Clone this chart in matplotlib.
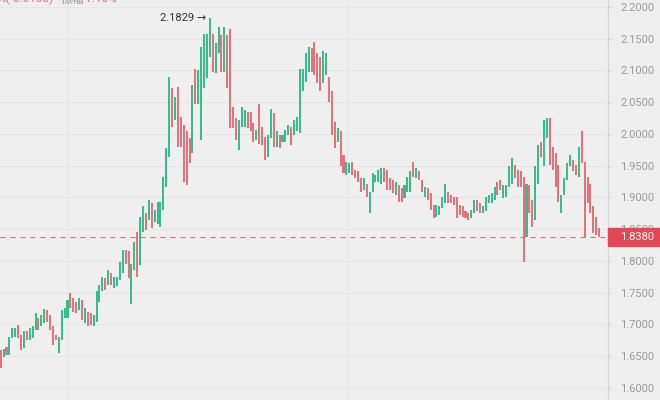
import numpy as np
import matplotlib
matplotlib.use("Agg")
import matplotlib.pyplot as plt
from matplotlib.patches import Rectangle
import matplotlib.transforms as mtransforms

# ---------------------------------------------------------------------------
# Data
# ---------------------------------------------------------------------------
opens = [
    1.660, 1.649, 1.665, 1.652, 1.678, 1.681, 1.699, 1.683, 1.663, 1.689,
    1.676, 1.678, 1.691, 1.710, 1.697, 1.702, 1.723, 1.715, 1.697, 1.683,
    1.655, 1.676, 1.710, 1.710, 1.749, 1.741, 1.736, 1.723, 1.739, 1.702,
    1.720, 1.718, 1.697, 1.704, 1.736, 1.752, 1.773, 1.762, 1.781, 1.757,
    1.760, 1.770, 1.781, 1.817, 1.815, 1.733, 1.786, 1.846, 1.794, 1.846,
    1.875, 1.865, 1.891, 1.862, 1.859, 1.854, 1.880, 1.917, 1.964, 2.072,
    2.022, 2.074, 2.027, 2.014, 2.004, 1.993, 1.970, 2.103, 2.048, 1.991,
    2.072, 2.088, 2.122, 2.158, 2.096, 2.127, 2.156, 2.098, 2.156, 2.166,
    2.043, 2.025, 1.975, 2.011, 2.011, 2.035, 2.035, 2.017, 1.991, 2.048,
    2.011, 1.996, 1.964, 1.993, 2.033, 1.980, 1.998, 1.988, 1.988, 1.998,
    2.011, 1.998, 2.004, 2.001, 2.067, 2.082, 2.098, 2.135, 2.145, 2.127,
    2.122, 2.080, 2.093, 2.090, 2.067, 2.019, 1.988, 2.004, 1.967, 1.935,
    1.938, 1.956, 1.943, 1.941, 1.930, 1.912, 1.922, 1.875, 1.909, 1.925,
    1.925, 1.922, 1.946, 1.943, 1.930, 1.928, 1.904, 1.920, 1.915, 1.899,
    1.909, 1.909, 1.956, 1.930, 1.941, 1.928, 1.901, 1.915, 1.907, 1.888,
    1.870, 1.872, 1.883, 1.891, 1.909, 1.904, 1.901, 1.901, 1.888, 1.886,
    1.878, 1.875, 1.867, 1.875, 1.896, 1.891, 1.875, 1.878, 1.891, 1.891,
    1.896, 1.925, 1.928, 1.899, 1.901, 1.917, 1.922, 1.951, 1.943, 1.941,
    1.933, 1.838, 1.920, 1.896, 1.865, 1.922, 1.988, 1.949, 1.993, 2.025,
    1.980, 1.970, 1.951, 1.875, 1.904, 1.928, 1.949, 1.959, 1.951, 1.933,
    2.004, 1.956, 1.933, 1.922, 1.886, 1.870, 1.852,
]
closes = [
    1.631, 1.662, 1.652, 1.681, 1.694, 1.694, 1.678, 1.660, 1.689, 1.676,
    1.694, 1.697, 1.718, 1.691, 1.715, 1.724, 1.704, 1.691, 1.668, 1.676,
    1.681, 1.723, 1.726, 1.739, 1.726, 1.720, 1.718, 1.741, 1.707, 1.726,
    1.697, 1.699, 1.715, 1.752, 1.762, 1.775, 1.754, 1.786, 1.762, 1.775,
    1.775, 1.799, 1.817, 1.796, 1.773, 1.796, 1.830, 1.775, 1.870, 1.886,
    1.849, 1.896, 1.852, 1.880, 1.893, 1.893, 1.933, 1.978, 2.090, 2.011,
    2.059, 1.980, 1.980, 1.925, 1.920, 1.954, 2.077, 2.048, 2.101, 2.137,
    2.158, 2.158, 2.182, 2.098, 2.143, 2.169, 2.098, 2.169, 2.072, 2.009,
    2.009, 1.991, 2.022, 2.043, 2.038, 2.009, 2.004, 1.988, 2.006, 1.985,
    1.983, 1.959, 1.998, 2.040, 1.980, 2.004, 1.978, 1.998, 2.006, 2.014,
    1.983, 2.022, 2.027, 2.103, 2.103, 2.127, 2.137, 2.098, 2.093, 2.080,
    2.067, 2.130, 2.127, 2.051, 1.998, 1.978, 2.009, 1.949, 1.938, 1.956,
    1.954, 1.935, 1.930, 1.925, 1.909, 1.930, 1.901, 1.909, 1.938, 1.935,
    1.943, 1.946, 1.925, 1.912, 1.912, 1.907, 1.925, 1.893, 1.893, 1.920,
    1.933, 1.941, 1.933, 1.946, 1.928, 1.909, 1.917, 1.896, 1.880, 1.867,
    1.888, 1.886, 1.901, 1.922, 1.891, 1.891, 1.888, 1.867, 1.872, 1.870,
    1.867, 1.865, 1.880, 1.896, 1.878, 1.875, 1.886, 1.901, 1.904, 1.907,
    1.917, 1.904, 1.912, 1.920, 1.920, 1.949, 1.962, 1.930, 1.917, 1.917,
    1.799, 1.922, 1.875, 1.854, 1.949, 1.983, 1.964, 2.022, 2.025, 1.951,
    1.943, 1.917, 1.893, 1.904, 1.930, 1.954, 1.967, 1.941, 1.935, 1.980,
    1.954, 1.836, 1.891, 1.875, 1.844, 1.841, 1.838,
]
peak_label = 2.1829
last_price = 1.8380
header_change = "%(-0.6133)"
header_amp_name = "振幅"
header_amp = "1.10%"

# ---------------------------------------------------------------------------
# Style
# ---------------------------------------------------------------------------
BG = "#efefef"
UP = "#35bd8b"
DOWN = "#e5717b"
LAST_RED = "#e34755"
W, H = 660, 400

plt.rcParams["font.family"] = ["Roboto", "DejaVu Sans"]

fig = plt.figure(figsize=(W / 100, H / 100), dpi=100)
fig.patch.set_facecolor(BG)
ax = fig.add_axes([0, 0, 608 / W, 1])
ax.set_facecolor(BG)

o = np.array(opens)
c = np.array(closes)
x = np.arange(len(o))
cols = np.where(c >= o, UP, DOWN)

# candle bodies
ax.bar(x, np.abs(c - o), bottom=np.minimum(o, c), width=0.7,
       color=cols, linewidth=0, zorder=3)

# axes limits (pixel mapping: 2.20 at y=7, 1.60 at y=388)
ax.set_xlim(-0.24, 209.05)
ax.set_ylim(1.5811, 2.2110)

# grid
ticks = np.arange(1.60, 2.2001, 0.05)
ax.set_yticks(ticks)
ax.set_yticklabels([f"{t:.4f}" for t in ticks])
ax.yaxis.tick_right()
ax.set_xticks([23.2, 119.2])
ax.tick_params(axis="x", length=0, labelbottom=False)
ax.grid(True, color="#e6e6e6", linewidth=0.8, zorder=0)
ax.tick_params(axis="y", length=2.5, width=0.8, color="#cfcfcf",
               pad=6.2, labelsize=8, labelcolor="#9a9a9a")
for s in ["top", "left", "bottom"]:
    ax.spines[s].set_visible(False)
ax.spines["right"].set_color("#d6d6d6")
ax.spines["right"].set_linewidth(0.8)

# last price dashed line + label box
ax.axhline(last_price, color="#e06a74", linewidth=0.8,
           linestyle=(0, (4.5, 4.5)), zorder=2)
blend = mtransforms.blended_transform_factory(ax.transAxes, ax.transData)
half = 9 / 635
ax.add_patch(Rectangle((1.0, last_price - half), W / 608 - 1.0, 2 * half,
                       transform=blend, color=LAST_RED, clip_on=False,
                       zorder=10))
ax.text(1.0 + 12 / 608, last_price, f"{last_price:.4f}", transform=blend,
        color="white", fontsize=8, va="center", ha="left", zorder=11,
        clip_on=False)

# peak annotation
imax = int(np.argmax(c))
ax.text(imax - 1.4, peak_label, f"{peak_label:.4f} →", color="#333333",
        fontsize=8, ha="right", va="center", zorder=5)

# header (cut off at the top, as in the reference)
fig.text(-3 / W, 1 - 5.5 / H, header_change, color="#e5717b", fontsize=8.5,
         va="bottom", ha="left")
fig.text(61 / W, 1 - 5.5 / H, header_amp_name, color="#9a9a9a", fontsize=8.5,
         va="bottom", ha="left", family=["Noto Sans CJK SC", "DejaVu Sans"])
fig.text(85 / W, 1 - 5.5 / H, header_amp, color="#e5717b", fontsize=8.5,
         va="bottom", ha="left")

fig.savefig("out.png", dpi=100, facecolor=BG)
